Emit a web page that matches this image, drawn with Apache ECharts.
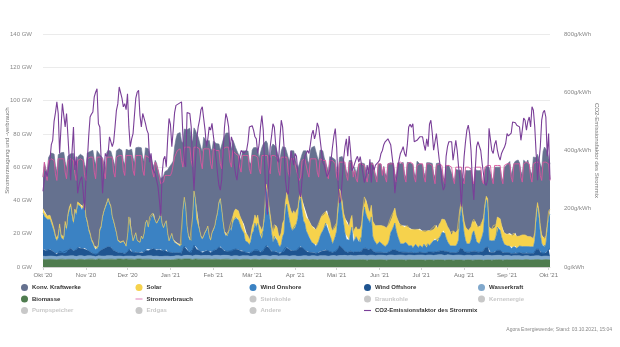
<!DOCTYPE html>
<html>
<head>
<meta charset="utf-8">
<script src="https://cdn.jsdelivr.net/npm/echarts@6/dist/echarts.min.js"></script>
<style>
  html, body { margin: 0; padding: 0; background: #ffffff; }
  #chart { width: 620px; height: 347px; }
</style>
</head>
<body>
<div id="chart"></div>
<script>
// Daily values, 1 Oct 2020 .. 2 Oct 2021, one row per week (Thu..Wed). Generation in GW, CO2 in g/kWh.
const biomasse = [
  4.6,4.6,4.5,4.4,4.6,4.7,4.6, 4.6,4.5,4.4,4.4,4.6,4.6,4.7, 4.7,4.6,4.5,4.4,4.6,4.6,4.6, 4.6,4.6,4.4,4.3,4.5,4.6,4.6,
  4.6,4.5,4.4,4.3,4.6,4.7,4.7, 4.7,4.7,4.5,4.4,4.7,4.8,4.7, 4.7,4.6,4.5,4.4,4.6,4.7,4.7, 4.7,4.7,4.5,4.5,4.7,4.8,4.8,
  4.8,4.7,4.6,4.5,4.8,4.8,4.7, 4.7,4.7,4.6,4.5,4.7,4.8,4.8, 4.8,4.7,4.6,4.5,4.7,4.7,4.7, 4.7,4.6,4.5,4.4,4.6,4.5,4.4,
  4.3,4.2,4.3,4.3,4.4,4.4,4.4, 4.4,4.3,4.3,4.4,4.6,4.7,4.7, 4.8,4.8,4.6,4.5,4.8,4.8,4.8, 4.8,4.8,4.6,4.5,4.8,4.8,4.7,
  4.7,4.7,4.6,4.5,4.7,4.7,4.7, 4.7,4.7,4.5,4.5,4.7,4.7,4.6, 4.6,4.6,4.5,4.4,4.6,4.7,4.7, 4.7,4.7,4.5,4.4,4.6,4.6,4.6,
  4.6,4.6,4.4,4.4,4.6,4.6,4.6, 4.6,4.6,4.4,4.4,4.6,4.6,4.6, 4.6,4.5,4.4,4.3,4.6,4.6,4.6, 4.5,4.5,4.4,4.3,4.5,4.6,4.6,
  4.6,4.5,4.4,4.3,4.5,4.5,4.5, 4.5,4.5,4.3,4.3,4.5,4.5,4.5, 4.5,4.3,4.2,4.2,4.3,4.5,4.5, 4.5,4.5,4.3,4.3,4.5,4.5,4.5,
  4.5,4.5,4.3,4.3,4.5,4.5,4.4, 4.4,4.4,4.3,4.2,4.4,4.4,4.4, 4.4,4.4,4.2,4.2,4.4,4.4,4.4, 4.4,4.4,4.2,4.2,4.4,4.4,4.4,
  4.2,4.3,4.2,4.1,4.4,4.4,4.4, 4.4,4.4,4.2,4.1,4.2,4.4,4.4, 4.4,4.4,4.2,4.1,4.4,4.4,4.4, 4.2,4.3,4.2,4.1,4.3,4.4,4.4,
  4.4,4.4,4.2,4.1,4.3,4.4,4.4, 4.4,4.3,4.2,4.1,4.3,4.4,4.3, 4.3,4.3,4.2,4.1,4.3,4.3,4.3, 4.3,4.3,4.2,4.1,4.3,4.3,4.3,
  4.3,4.3,4.1,4.1,4.3,4.3,4.3, 4.3,4.3,4.1,4.0,4.3,4.3,4.3, 4.3,4.2,4.1,4.0,4.2,4.3,4.3, 4.3,4.2,4.1,4.0,4.2,4.3,4.3,
  4.3,4.3,4.1,4.0,4.2,4.3,4.3, 4.3,4.3,4.1,4.0,4.3,4.3,4.3, 4.3,4.3,4.1,4.1,4.3,4.3,4.4, 4.4,4.4,4.2,4.1,4.3,4.4,4.4,
  4.4,4.4,4.2,4.1,4.4,4.4,4.4, 4.4,4.4,4.2,4.2,4.4,4.5,4.5, 4.5,4.4,4.2,4.2,4.4,4.5,4.5, 4.5,4.5,4.3,4.2,4.5,4.5,4.5,
  4.5,4.5,4.3
];
const wasserkraft = [
  1.9,1.9,1.8,1.8,1.9,1.9,2.0, 2.0,1.9,1.8,1.8,1.9,2.0,2.0, 2.0,2.1,2.0,1.9,2.0,2.1,2.1, 2.1,2.1,2.0,2.0,2.1,2.2,2.2,
  2.2,2.1,2.0,2.0,2.1,2.0,2.0, 1.9,1.9,1.8,1.8,1.9,1.9,1.9, 1.9,2.0,2.0,2.0,2.1,2.1,2.1, 2.1,2.0,1.9,1.9,1.9,1.8,1.8,
  1.8,1.8,1.7,1.7,1.8,1.8,1.9, 1.9,1.9,1.8,1.8,1.9,1.9,1.9, 1.9,1.9,1.8,1.8,1.9,2.0,2.0, 2.0,2.1,2.0,2.0,2.1,2.1,2.1,
  2.0,2.0,2.0,2.0,2.1,2.1,2.1, 2.1,2.0,2.0,2.0,2.1,2.1,2.1, 2.0,2.0,1.9,2.0,2.1,2.2,2.2, 2.1,2.1,2.0,2.1,2.2,2.3,2.3,
  2.3,2.2,2.1,2.1,2.2,2.2,2.2, 2.2,2.2,2.1,2.1,2.2,2.3,2.3, 2.4,2.4,2.3,2.3,2.4,2.4,2.3, 2.3,2.2,2.1,2.1,2.2,2.2,2.2,
  2.2,2.2,2.1,2.1,2.2,2.2,2.1, 2.1,2.1,2.0,2.0,2.1,2.1,2.2, 2.2,2.2,2.1,2.1,2.2,2.3,2.3, 2.3,2.3,2.2,2.2,2.3,2.3,2.3,
  2.3,2.3,2.2,2.2,2.2,2.3,2.3, 2.3,2.3,2.2,2.2,2.3,2.3,2.3, 2.3,2.2,2.2,2.2,2.2,2.3,2.3, 2.3,2.3,2.2,2.2,2.3,2.3,2.3,
  2.3,2.3,2.2,2.2,2.3,2.4,2.4, 2.4,2.4,2.3,2.3,2.4,2.4,2.5, 2.5,2.5,2.4,2.4,2.5,2.5,2.5, 2.5,2.6,2.5,2.5,2.6,2.6,2.6,
  2.6,2.6,2.5,2.5,2.6,2.6,2.6, 2.6,2.7,2.6,2.6,2.6,2.7,2.7, 2.7,2.7,2.6,2.6,2.7,2.7,2.7, 2.7,2.7,2.6,2.6,2.7,2.8,2.8,
  2.8,2.8,2.7,2.7,2.8,2.8,2.8, 2.8,2.8,2.7,2.7,2.8,2.8,2.8, 2.8,2.8,2.7,2.7,2.8,2.8,2.9, 2.9,2.9,2.8,2.8,2.9,2.9,2.9,
  2.9,2.9,2.8,2.8,2.9,2.9,3.0, 3.0,3.0,2.9,2.9,3.0,3.0,2.9, 2.9,2.9,2.8,2.8,2.9,2.9,2.9, 2.9,2.9,2.8,2.8,2.8,2.8,2.8,
  2.8,2.8,2.7,2.7,2.8,2.8,2.8, 2.8,2.7,2.7,2.6,2.7,2.7,2.7, 2.7,2.7,2.6,2.6,2.6,2.6,2.6, 2.6,2.6,2.5,2.5,2.5,2.5,2.5,
  2.5,2.5,2.4,2.4,2.4,2.4,2.4, 2.4,2.4,2.3,2.3,2.3,2.3,2.3, 2.3,2.3,2.2,2.2,2.2,2.2,2.2, 2.2,2.2,2.1,2.1,2.1,2.1,2.1,
  2.1,2.1,2.0
];
const windOffshore = [
  4,4,3.5,3.5,4,4,3.5, 3,2.5,2,1.5,2,3,2, 2,1.5,3,2.5,3.5,4,4.5, 3.5,3,4,4,5,5,4.5,
  4.5,4.5,5,4,3.5,3,2.5, 2,1.5,1.5,1.2,1.2,1.5,3, 3,4,4.5,5,5,5.5,5, 5,4,3.5,3,2.5,2,1.8,
  1.8,2,2,1.8,1.5,2.5,4, 4,2.5,2,2.5,2.5,2,1.8, 1.8,2.5,2.2,2.5,3.5,4,3, 4,4,4.5,4.5,4,3.5,4,
  4,4.5,3.5,3,3.5,4,2.5, 2,2.5,2.5,2,2,1.8,1.8, 1.8,1.5,1.8,4.5,5.5,5,3, 2.5,2,2,4,6,5.5,3.5,
  3.5,3,2.5,2,2.5,2.5,3, 3,2.5,2,2.5,3,3,3.5, 4,5,5.5,4.5,3.5,2.5,2.5, 2.5,2.5,3,3,3.5,3.5,4,
  4,3.5,3.5,3,3,2.5,2, 2,2,1.8,2,2.5,3,3.5, 3,3.5,3,2.5,2,3,4, 6,6,5,4,2.5,2,2.5,
  2.5,2,1.8,1.5,2,2.5,2.5, 5,5,4.5,4,3,3,3, 3,3.5,4,5.5,6,5,4, 3.5,3,2.5,2.5,2,2,1.8,
  1.8,1.5,1.8,2,2.5,2.5,3, 3,3.5,3.5,3,2.5,2,1.8, 2,2.5,3,4.5,6,5.5,4.5, 3.5,2.5,2,2,2,2.5,3,
  2,2,2.5,2,2,1.8,2.5, 4,5,4.5,4,3.5,3.5,4, 2.5,2,2,1.8,1.8,2,1.8, 1.8,1.5,1.5,1.8,2,2,2.5,
  3,3,3.5,3,2.5,2,1.8, 1.8,1.8,2,2,1.8,1.5,1.5, 1.8,1.5,1.5,1.8,1.5,1.5,1.8, 1.5,1.5,1.8,1.5,1.5,1.8,1.5,
  1.8,2,2,2.2,2,2,2.2, 2.5,2.5,3,2.5,2.2,2,1.8, 1.5,1.5,1.8,1.8,1.5,1.8,2, 4,5,4,2.5,2,1.8,1.8,
  1.8,2,2.5,3,2.5,2,1.8, 1.8,2,2.5,3,4.5,5.5,5, 2,2,2,2.2,2,2.5,3, 3,3,2.5,2,1.8,1.8,1.8,
  1.8,1.5,1.5,1.5,1.5,1.8,1.5, 1.5,1.8,2,1.8,1.5,1.5,1.8, 1.5,1.5,1.8,1.5,1.5,2,4, 5,4,2.5,2,1.8,1.5,1.8,
  3,4,4.5
];
const windOnshore = [
  22,20,20,19,19,18,16, 14,12,9,8,9,14,9, 8,8,16,13,20,23,25, 20,16,23,21,26,25,25,
  23,24,26,19,16,12,10, 7,6,4,3,3,4,12, 14,19,22,24,26,28,26, 24,19,17,14,11,7,6,
  6,6,7,6,4,9,19, 19,11,7,9,11,7,6, 6,9,8,11,16,17,14, 19,19,21,21,17,16,17,
  19,21,16,14,16,17,11, 7,9,11,8,6,6,5, 5,4,5,23,29,24,14, 9,7,7,19,32,28,18,
  18,12,9,8,9,11,12, 14,9,7,11,12,14,18, 21,26,28,23,16,11,9, 9,11,14,12,16,18,19,
  19,18,16,14,12,11,7, 7,6,5,7,11,12,16, 14,16,12,9,8,12,19, 35,31,22,17,11,6,9,
  9,7,5,4,5,9,11, 24,26,21,17,14,12,14, 14,16,19,28,29,22,17, 16,12,11,9,8,6,5,
  5,4,5,7,9,11,12, 14,16,16,12,11,8,5, 7,9,12,21,29,28,21, 16,11,8,9,7,11,14,
  6,7,9,8,6,6,9, 19,24,21,19,18,16,19, 9,7,6,5,5,6,5, 5,4,4,5,5,7,11,
  12,14,16,12,9,7,5, 5,5,5,6,5,4,4, 4,3,4,5,4,3,4, 4,3,5,4,3,5,4,
  5,6,7,8,7,6,8, 9,11,12,11,8,6,5, 4,3,4,5,4,5,7, 19,24,17,11,7,5,4,
  5,7,11,12,9,6,5, 5,7,9,12,23,28,26, 7,6,7,8,7,9,14, 14,12,9,7,5,4,4,
  4,4,3,4,4,4,3, 4,4,5,4,4,4,4, 4,4,4,4,4,7,17, 24,19,11,6,4,4,5,
  12,19,21
];
const solar = [
  2.5,2.2,2.6,2.0,2.3,2.5,2.4, 2.2,2.0,1.8,1.6,2.0,2.3,1.9, 1.8,1.7,1.9,1.5,1.6,2.0,1.8, 1.7,1.5,1.4,1.3,1.5,1.6,1.4,
  1.3,1.4,1.2,1.1,1.3,1.2,1.2, 1.1,1.0,0.9,1.0,1.1,1.0,1.0, 1.0,0.9,0.8,0.9,1.0,0.9,0.8, 0.8,0.7,0.7,0.8,0.7,0.6,0.7,
  0.6,0.6,0.5,0.5,0.6,0.6,0.5, 0.5,0.6,0.4,0.5,0.5,0.4,0.5, 0.4,0.5,0.4,0.4,0.5,0.4,0.4, 0.4,0.4,0.3,0.4,0.4,0.3,0.4,
  0.3,0.3,0.3,0.4,0.3,0.3,0.3, 0.3,0.3,0.4,0.3,0.4,0.4,0.4, 0.4,0.5,0.4,0.4,0.5,0.5,0.5, 0.5,0.5,0.6,0.5,0.6,0.6,0.5,
  0.6,0.5,0.6,0.6,0.6,0.7,0.6, 0.7,0.6,0.7,0.7,0.8,0.7,0.8, 0.8,0.9,0.8,0.7,0.8,0.9,0.9, 1.0,1.2,1.5,2.5,4,5,5,
  5,5.5,5,5.5,5,5.5,5, 4.5,4,3,3.5,4,5,5, 5,5,4,6,5,3,3, 2,2.5,4,4,5,6,7,
  7,8,6,6,7,8,8, 3,7,8,9,10,10,10, 8,8,6,2,3,7,8, 9,8,10,10,9,10,10,
  10,10,11,10,10,10,10, 8,7,8,9,8,7,8, 8,6,5,5,5,6,7, 6,9,10,9,8,8,7,
  6,7,6,6,7,8,7, 5,6,9,8,6,6,7, 9,10,10,11,11,10,11, 11,12,11,10,11,10,9,
  8,9,9,9,10,10,11, 11,11,10,10,11,11,10, 10,11,10,9,10,11,10, 9,10,8,9,10,8,9,
  8,8,7,8,9,8,8, 8,8,7,8,9,9,9, 8,8,9,7,8,8,7, 5,3,5,7,8,9,9,
  9,8,7,7,9,10,10, 10,9,9,8,3,2,3, 8,8,7,8,8,7,6, 6,7,7,6,7,7,7,
  7,8,8,7,8,8,7, 7,6,6,7,6,7,6, 6,5,6,6,5,5,4, 3,4,5,5,5,5,5,
  4,4,3
];
const konvKraftwerke = [
  19,30,27,26,34,35,40, 42,45,42,40,48,42,49, 50,51,36,36,35,32,30, 36,41,27,26,27,28,30,
  32,30,23,29,41,46,49, 52,55,52,50,58,57,45, 43,35,28,23,30,29,31, 33,39,36,36,49,54,56,
  56,55,48,47,58,53,40, 40,50,50,44,51,56,57, 58,53,49,43,45,43,47, 38,36,30,28,36,36,31,
  26,21,28,31,31,29,38, 44,42,42,47,57,62,66, 67,68,62,40,41,46,58, 64,67,61,45,38,41,51,
  49,55,53,52,59,57,53, 51,57,55,49,53,51,45, 41,35,29,35,49,57,61, 61,59,48,47,46,41,37,
  35,37,35,35,43,45,49, 50,51,47,43,46,45,41, 43,39,40,42,50,49,41, 26,28,30,34,47,53,49,
  47,48,47,46,49,46,44, 33,27,26,27,36,38,36, 34,28,24,20,17,27,34, 35,40,34,34,44,47,48,
  49,50,42,38,42,40,38, 34,33,26,27,38,42,44, 42,40,31,19,19,20,27, 32,35,31,29,40,36,33,
  35,37,32,33,40,40,37, 27,20,17,18,22,30,25, 35,36,31,29,37,37,37, 32,36,33,31,37,36,33,
  32,29,21,23,34,36,37, 37,38,32,29,38,39,40, 40,39,34,32,41,40,39, 41,40,35,33,41,40,41,
  40,39,33,29,37,39,37, 34,32,25,24,34,36,38, 38,39,32,31,38,36,35, 23,19,21,25,34,35,36,
  35,34,25,21,31,33,34, 34,33,25,20,21,18,19, 36,37,31,27,36,35,30, 30,31,29,30,39,40,42,
  42,43,36,35,42,43,45, 45,44,38,36,46,45,44, 46,47,39,38,49,45,34, 29,34,37,40,52,55,53,
  44,36,27
];
const stromverbrauch = [
  54,63,56,52,64,64,65, 65,64,56,52,65,65,65, 65,65,57,53,64,65,65, 65,64,56,52,64,65,65,
  65,64,55,52,65,65,66, 66,66,57,53,66,66,66, 66,65,57,53,66,66,66, 66,66,57,54,66,67,67,
  67,67,58,55,67,67,67, 67,67,58,55,67,67,67, 67,67,58,55,67,67,66, 66,65,57,54,63,61,58,
  54,50,50,51,55,55,55, 56,55,57,58,66,68,70, 71,71,64,60,72,72,72, 72,72,64,60,72,72,72,
  72,71,63,59,71,71,71, 71,71,62,59,71,71,70, 70,70,62,59,71,71,72, 72,72,63,60,70,69,68,
  68,67,60,57,67,67,67, 67,67,59,56,67,67,67, 67,66,59,56,67,67,67, 68,67,59,56,67,67,67,
  67,66,58,55,66,66,66, 66,66,57,54,65,65,65, 65,58,55,52,54,64,65, 65,65,57,54,65,65,65,
  65,65,57,54,65,65,64, 64,64,56,53,64,64,64, 64,62,54,52,63,64,63, 63,63,55,52,63,63,63,
  54,58,53,51,62,62,62, 62,61,54,51,52,62,62, 62,62,54,51,62,62,62, 55,60,54,51,62,63,62,
  62,62,54,51,62,63,63, 63,62,54,51,62,62,63, 63,62,54,51,61,62,62, 62,62,54,51,62,62,62,
  62,61,54,50,61,62,62, 61,61,53,50,61,61,61, 60,60,53,50,60,61,60, 60,60,52,50,60,60,60,
  60,59,52,50,60,60,60, 60,60,52,50,60,61,61, 61,61,53,50,61,61,61, 61,61,53,50,61,61,62,
  62,62,54,51,62,62,62, 62,62,54,51,62,63,63, 63,62,54,51,62,63,63, 63,63,55,52,63,63,63,
  63,62,52
];
const co2Faktor = [
  260,300,330,310,340,367,420, 435,500,530,567,527,390,480, 561,567,481,527,450,367,298, 400,481,333,379,253,280,300,
  310,260,195,300,367,450,515, 525,532,584,600,612,492,481, 481,253,333,390,380,390,447, 447,413,430,481,538,560,618,
  618,580,550,561,540,595,481, 413,440,458,520,580,600,607, 520,481,527,510,492,470,458, 360,390,340,344,320,298,276,
  230,175,320,370,380,344,440, 510,490,413,470,530,555,561, 561,565,567,450,360,344,530, 530,527,481,356,264,356,440,
  480,504,540,550,510,470,413, 440,481,470,493,450,413,370, 321,280,264,300,390,480,527, 510,481,401,447,430,356,320,
  298,340,379,400,395,390,395, 401,430,481,487,485,470,447, 440,390,420,480,520,470,350, 230,180,330,413,450,492,480,
  420,370,360,440,504,480,413, 300,260,250,330,400,400,350, 390,380,320,260,240,300,344, 380,390,400,390,420,455,470,
  440,458,495,480,440,400,360, 350,330,310,320,333,370,413, 450,475,410,290,220,230,300, 370,413,440,380,450,400,330,
  340,356,370,380,360,379,385, 320,290,310,350,320,370,290, 350,333,350,356,360,367,390, 400,420,430,435,440,441,420,
  380,340,253,298,330,367,390, 400,413,390,379,420,481,490, 480,492,430,424,435,440,447, 447,447,420,400,440,413,490,
  504,460,401,430,458,413,370, 340,290,264,276,380,413,430, 435,430,367,400,435,400,344, 300,207,300,379,430,470,487,
  458,400,290,230,330,413,430, 435,400,356,320,287,280,300, 476,470,400,390,420,435,401, 380,367,390,401,410,424,458,
  450,447,460,498,504,495,487, 487,481,435,470,511,504,470, 500,515,481,550,538,481,390, 298,360,413,504,530,538,515,
  380,458,300
];

// Axis ticks and labels
const monthNames = ['Jan', 'Feb', 'Mär', 'Apr', 'Mai', 'Jun', 'Jul', 'Aug', 'Sep', 'Okt', 'Nov', 'Dez'];
const gwTicks = { min: 0, max: 140, step: 20 };
const co2Ticks = { min: 0, max: 800, step: 200 };
const hiddenSources = ['Steinkohle', 'Braunkohle', 'Kernenergie', 'Pumpspeicher', 'Erdgas', 'Andere'];

// One category per day, starting 1 Oct 2020
const days = [];
const start = Date.UTC(2020, 9, 1);
for (let i = 0; i < windOnshore.length; i++) {
  days.push(new Date(start + i * 86400000).toISOString().slice(0, 10));
}
const isMonthStart = (idx, value) => value.slice(8, 10) === '01';

const font = 'Liberation Sans, Arial, Helvetica, sans-serif';
const colors = {
  konv: '#65718f', solar: '#f6d24c', onshore: '#3b82c3', offshore: '#1f5490',
  wasser: '#80a8cc', bio: '#4f7c4f', verbrauch: '#d8579f', co2: '#7a3f98'
};

function stackArea(name, data, color) {
  return {
    name, type: 'line', stack: 'erzeugung', data, symbol: 'none', showSymbol: false,
    lineStyle: { width: 0.6, color }, itemStyle: { color },
    areaStyle: { color, opacity: 1 }, emphasis: { disabled: true }, z: 2
  };
}

const lineIcon = 'path://M0,0H10V1.6H0Z';
const selectedMap = {};
hiddenSources.forEach(n => { selectedMap[n] = false; });

const legendBase = {
  orient: 'vertical', top: 284, padding: 0, itemWidth: 7, itemHeight: 7, itemGap: 4.5,
  icon: 'circle', inactiveColor: '#c8c8c8', selected: selectedMap,
  textStyle: { fontSize: 6, fontWeight: 'bold', color: '#333', fontFamily: font, lineHeight: 7, padding: [0, 0, 0, -1] }
};

const series = [
  stackArea('Biomasse', biomasse, colors.bio),
  stackArea('Wasserkraft', wasserkraft, colors.wasser),
  stackArea('Wind Offshore', windOffshore, colors.offshore),
  stackArea('Wind Onshore', windOnshore, colors.onshore),
  stackArea('Solar', solar, colors.solar),
  stackArea('Konv. Kraftwerke', konvKraftwerke, colors.konv),
  {
    name: 'Stromverbrauch', type: 'line', data: stromverbrauch, symbol: 'none',
    lineStyle: { width: 0.9, color: colors.verbrauch }, itemStyle: { color: '#e28cc0' }, z: 3
  },
  {
    name: 'CO2-Emissionsfaktor des Strommix', type: 'line', yAxisIndex: 1, data: co2Faktor, symbol: 'none',
    lineStyle: { width: 1.1, color: colors.co2 }, itemStyle: { color: colors.co2 }, z: 4
  }
];
hiddenSources.forEach(n => series.push({ name: n, type: 'line', data: [], symbol: 'none', itemStyle: { color: '#999' } }));

const option = {
  animation: false,
  backgroundColor: '#ffffff',
  textStyle: { fontFamily: font },
  grid: { left: 43, right: 70, top: 34, bottom: 80, containLabel: false, outerBoundsMode: 'none' },
  xAxis: {
    type: 'category', data: days, boundaryGap: false,
    axisLine: { lineStyle: { color: '#d0d0d0', width: 1 } },
    axisTick: { interval: isMonthStart, length: 3, lineStyle: { color: '#d0d0d0' } },
    axisLabel: {
      interval: isMonthStart, fontSize: 6, color: '#777', margin: 5, fontFamily: font,
      formatter: v => monthNames[+v.slice(5, 7) - 1] + " '" + v.slice(2, 4)
    },
    splitLine: { show: false }
  },
  yAxis: [
    {
      type: 'value', min: gwTicks.min, max: gwTicks.max, interval: gwTicks.step,
      name: 'Stromerzeugung und -verbrauch', nameLocation: 'middle', nameGap: 33, nameMoveOverlap: false,
      nameTextStyle: { fontSize: 6, color: '#777', fontFamily: font },
      axisLabel: { formatter: '{value} GW', fontSize: 6, color: '#888', margin: 11, fontFamily: font },
      axisLine: { show: false }, axisTick: { show: false },
      splitLine: { lineStyle: { color: '#ebebeb', width: 1 } }
    },
    {
      type: 'value', min: co2Ticks.min, max: co2Ticks.max, interval: co2Ticks.step, position: 'right',
      name: 'CO2-Emissionsfaktor des Strommix', nameLocation: 'middle', nameGap: 44, nameRotate: -90, nameMoveOverlap: false,
      nameTextStyle: { fontSize: 6, color: '#777', fontFamily: font },
      axisLabel: { formatter: '{value}g/kWh', fontSize: 6, color: '#888', margin: 14, fontFamily: font },
      axisLine: { show: false }, axisTick: { show: false }, splitLine: { show: false }
    }
  ],
  legend: [
    Object.assign({}, legendBase, { left: 21, data: ['Konv. Kraftwerke', 'Biomasse', 'Pumpspeicher'] }),
    Object.assign({}, legendBase, { left: 135.5, data: ['Solar', { name: 'Stromverbrauch', icon: lineIcon }, 'Erdgas'] }),
    Object.assign({}, legendBase, { left: 249.5, data: ['Wind Onshore', 'Steinkohle', 'Andere'] }),
    Object.assign({}, legendBase, { left: 364, data: ['Wind Offshore', 'Braunkohle', { name: 'CO2-Emissionsfaktor des Strommix', icon: lineIcon }] }),
    Object.assign({}, legendBase, { left: 478, data: ['Wasserkraft', 'Kernenergie'] })
  ],
  graphic: [{
    type: 'text', right: 8, top: 327,
    style: { text: 'Agora Energiewende; Stand: 03.10.2021, 15:04', fontSize: 5, fill: '#888', fontFamily: font }
  }],
  series
};

const chart = echarts.init(document.getElementById('chart'), null, { renderer: 'canvas' });
chart.setOption(option);
</script>
</body>
</html>
